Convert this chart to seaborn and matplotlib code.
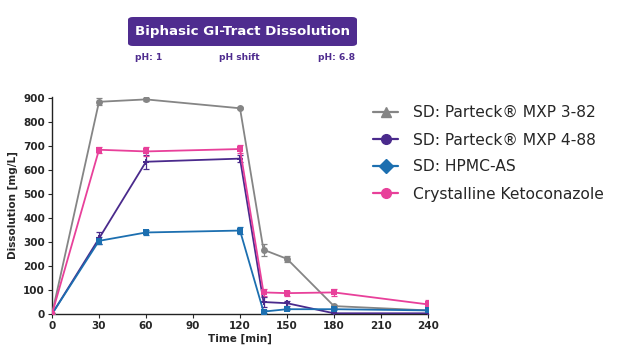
import numpy as np
import pandas as pd
import matplotlib
matplotlib.use("Agg")
import matplotlib.pyplot as plt
import seaborn as sns
from matplotlib.lines import Line2D
from matplotlib.patches import FancyBboxPatch

time = [0, 30, 60, 120, 135, 150, 180, 240]
series = ["SD: Parteck® MXP 3-82", "SD: Parteck® MXP 4-88", "SD: HPMC-AS", "Crystalline Ketoconazole"]
mxp382 = [0, 885, 895, 858, 268, 230, 33, 15]
mxp382_err = [0, 15, 6, 4, 25, 12, 5, 4]
mxp488 = [0, 315, 635, 648, 50, 45, 3, 3]
mxp488_err = [0, 25, 30, 15, 20, 10, 3, 3]
hpmc = [0, 305, 340, 348, 10, 20, 20, 15]
hpmc_err = [0, 15, 12, 15, 5, 4, 4, 4]
cryst = [0, 685, 678, 688, 90, 87, 90, 40]
cryst_err = [0, 12, 18, 18, 15, 10, 15, 20]
xticks = [0, 30, 60, 90, 120, 150, 180, 210, 240]
yticks = [0, 100, 200, 300, 400, 500, 600, 700, 800, 900]

colors = ["#858585", "#4a2a8c", "#1c6fb0", "#e8409a"]
plot_markers = ["o", "P", "s", "s"]
legend_markers = ["^", "o", "D", "o"]

vals = [mxp382, mxp488, hpmc, cryst]
errs = [mxp382_err, mxp488_err, hpmc_err, cryst_err]
df = pd.DataFrame({
    "time": time * 4,
    "value": sum(vals, []),
    "err": sum(errs, []),
    "series": sum([[s] * len(time) for s in series], []),
})

sns.set_style("ticks")
plt.rcParams["font.family"] = ["DejaVu Sans"]
fig = plt.figure(figsize=(6.2, 3.55), dpi=100)
ax = fig.add_axes([52 / 620, 41 / 355, 376 / 620, 217 / 355])

for s, c, m in zip(series, colors, plot_markers):
    d = df[df.series == s]
    ax.errorbar(d["time"], d["value"], yerr=d["err"], fmt="none", ecolor=c,
                elinewidth=0.9, capsize=2.5, capthick=0.9, zorder=2)
sns.lineplot(data=df, x="time", y="value", hue="series", style="series",
             palette=dict(zip(series, colors)), markers=dict(zip(series, plot_markers)),
             dashes=False, markersize=5, markeredgewidth=0, linewidth=1.3,
             legend=False, ax=ax, zorder=3)

ax.set_xlim(0, 240)
ax.set_ylim(0, 905)
ax.set_xticks(xticks)
ax.set_yticks(yticks)
ax.tick_params(labelsize=7.5, length=3, width=0.8, pad=2)
for lab in ax.get_xticklabels() + ax.get_yticklabels():
    lab.set_fontweight("bold")
ax.set_xlabel("Time [min]", fontsize=7.5, fontweight="bold", labelpad=2)
ax.set_ylabel("Dissolution [mg/L]", fontsize=7.5, fontweight="bold", labelpad=4)
sns.despine(ax=ax)
for sp in ["left", "bottom"]:
    ax.spines[sp].set_linewidth(1.0)
    ax.spines[sp].set_color("#222222")

handles = [Line2D([0], [0], color=c, marker=m, markersize=7, linewidth=1.6)
           for c, m in zip(colors, legend_markers)]
fig.legend(handles, series, loc="upper left", bbox_to_anchor=(367 / 620, 1 - 99 / 355),
           frameon=False, fontsize=11.2, handlelength=1.6, handletextpad=0.95,
           labelspacing=0.78, borderaxespad=0)

box = FancyBboxPatch((128 / 620, 1 - 46 / 355), 229 / 620, 29 / 355,
                     boxstyle="round,pad=0,rounding_size=0.008",
                     transform=fig.transFigure, facecolor="#4f2c8f", edgecolor="none")
fig.patches.append(box)
fig.text(242.5 / 620, 1 - 32 / 355, "Biphasic GI-Tract Dissolution", color="white",
         fontsize=9.6, fontweight="bold", ha="center", va="center")
ptxt = dict(color="#4f2c8f", fontsize=6.6, fontweight="bold", va="center")
fig.text(135 / 620, 1 - 58 / 355, "pH: 1", ha="left", **ptxt)
fig.text(239 / 620, 1 - 58 / 355, "pH shift", ha="center", **ptxt)
fig.text(355 / 620, 1 - 58 / 355, "pH: 6.8", ha="right", **ptxt)

fig.savefig("out.png", dpi=100)
